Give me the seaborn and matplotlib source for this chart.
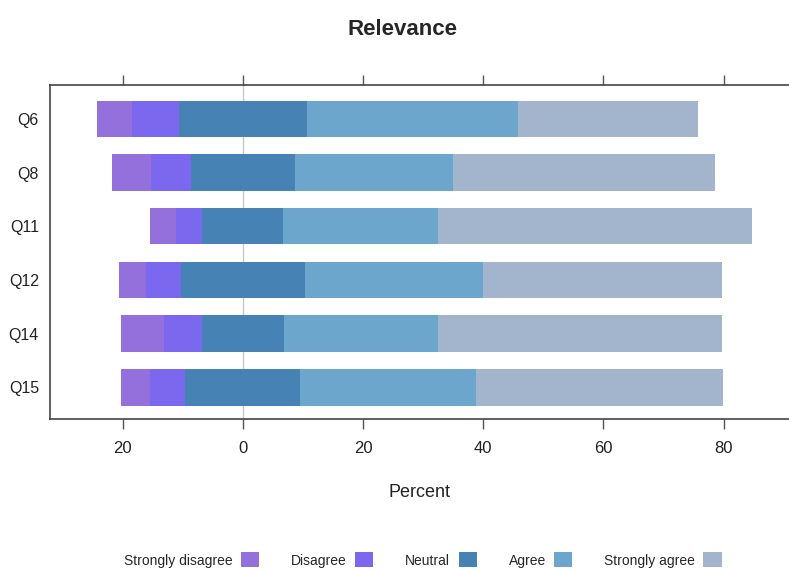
import numpy as np
import seaborn as sns
import matplotlib.pyplot as plt
from matplotlib.patches import Patch

questions = ['Q6', 'Q8', 'Q11', 'Q12', 'Q14', 'Q15']
strongly_disagree = [5.9, 6.4, 4.3, 4.4, 7.2, 4.8]
disagree = [7.8, 6.7, 4.4, 5.9, 6.3, 5.9]
neutral = [21.3, 17.2, 13.5, 20.6, 13.7, 19.1]
agree = [35.2, 26.3, 25.7, 29.7, 25.7, 29.3]
strongly_agree = [29.9, 43.7, 52.3, 39.7, 47.2, 41.0]

levels = ['Strongly disagree', 'Disagree', 'Neutral', 'Agree', 'Strongly agree']
colors = ['#9370DB', '#7B68EE', '#4682B4', '#6CA6CD', '#A2B5CD']
xticks = [-20, 0, 20, 40, 60, 80]
xticklabels = ['20', '0', '20', '40', '60', '80']

sns.set_style('white')
plt.rcParams['font.family'] = ['Liberation Sans', 'DejaVu Sans']

sd = np.array(strongly_disagree)
d = np.array(disagree)
n = np.array(neutral)
a = np.array(agree)
sa = np.array(strongly_agree)

fig = plt.figure(figsize=(7.89, 5.69), dpi=100)
ax = fig.add_axes([50 / 789, (569 - 419) / 569, 739 / 789, 334 / 569])

ax.axvline(0, color='#c8c8c8', lw=1, zorder=0)

# stack by overdrawing: widest first, so narrower segments sit on top
layers = [
    (-(sd + d + n / 2), colors[0]),
    (-(d + n / 2), colors[1]),
    (n / 2 + a + sa, colors[4]),
    (n / 2 + a, colors[3]),
    (-(n / 2), colors[2]),
    (n / 2, colors[2]),
]
for vals, col in layers:
    sns.barplot(x=vals, y=questions, orient='h', color=col, saturation=1,
                width=0.68, linewidth=0, ax=ax)

ax.set_xlim(-32.1, 90.9)
ax.set_ylim(5.59, -0.63)
ax.set_xticks(xticks)
ax.set_xticklabels(xticklabels, fontsize=12, color='#222222')
ax.tick_params(axis='x', which='both', direction='out', length=7, width=1,
               color='#555555', top=True, bottom=True, labeltop=False, pad=9)
ax.tick_params(axis='y', length=0, labelsize=11.5, pad=8, labelcolor='#222222')
ax.set_ylabel('')
ax.set_xlabel('Percent', fontsize=13, labelpad=20, color='#222222')
for side in ['left', 'top', 'bottom']:
    ax.spines[side].set_color('#444444')
    ax.spines[side].set_linewidth(1.2)
ax.spines['right'].set_visible(False)

fig.suptitle('Relevance', fontsize=16, fontweight='bold', x=0.51, y=0.967)

handles = [Patch(facecolor=c, edgecolor='none') for c in colors]
fig.legend(handles, levels, loc='center', bbox_to_anchor=(0.536, 0.016),
           ncol=5, frameon=False, markerfirst=False, fontsize=10,
           handlelength=1.3, handleheight=1.3, handletextpad=0.6,
           columnspacing=2.3)

fig.savefig('out.png', dpi=100)
plt.close(fig)
